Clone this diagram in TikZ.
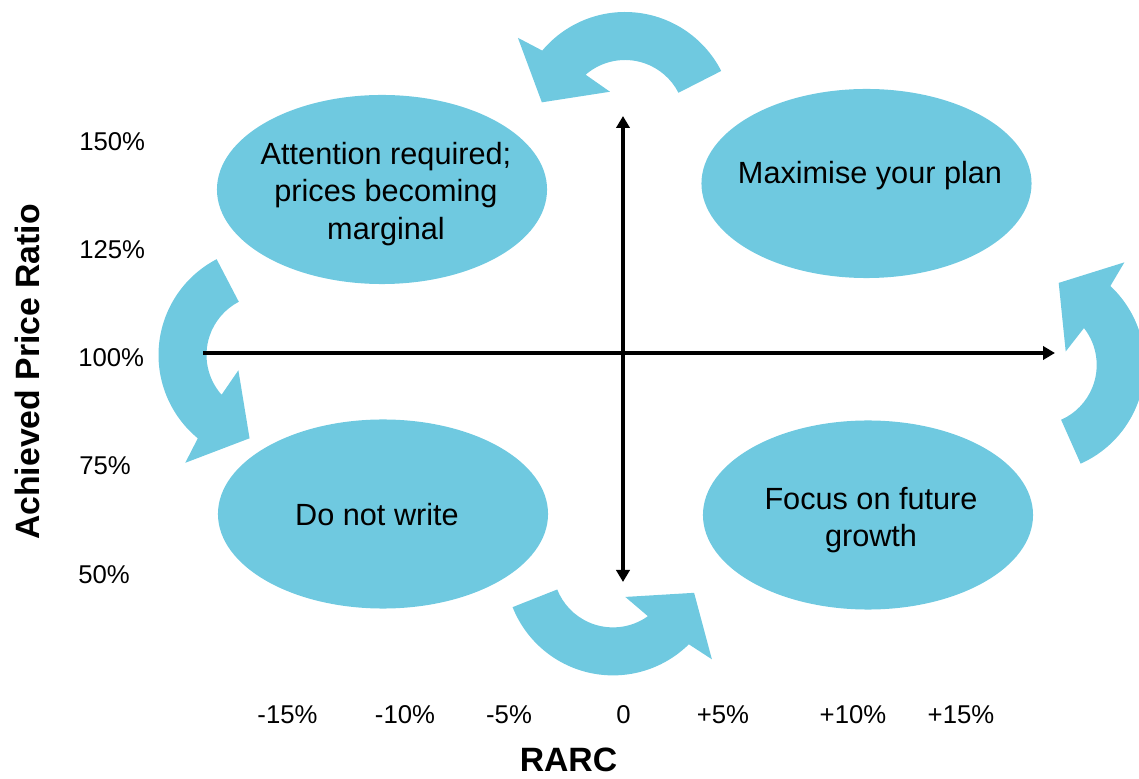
\documentclass[tikz,border=0pt]{standalone}
\usepackage{fontspec}
\setmainfont{Liberation Sans}
\usetikzlibrary{shapes.geometric,arrows.meta}
\definecolor{zoneblue}{RGB}{111,201,224}
\tikzset{
  zone/.style={ellipse,fill=zoneblue,minimum width=8.25cm,minimum height=4.725cm},
  zonetext/.style={align=center,inner sep=0pt,font=\fontsize{21.8pt}{26.5pt}\selectfont},
  tick/.style={inner sep=0pt,font=\fontsize{18.3pt}{22pt}\selectfont},
  title/.style={inner sep=0pt,font=\fontsize{24pt}{28pt}\selectfont\bfseries},
  axis/.style={line width=2.7pt},
  turn/.style={fill=zoneblue}
}

\begin{document}
\begin{tikzpicture}[x=0.025cm,y=0.025cm]
\useasboundingbox (0,0) rectangle (1139,778);
\clip (0,0) rectangle (1139,778);
% circular arrows: centre x / centre y / tail angle
\foreach \cx/\cy/\t in {625/658/27, 266.5/423/117.5, 613/210.6/201.6, 1036.7/413/-66}
  \fill[turn,shift={(\cx,\cy)}] (\t:108) arc[start angle=\t,end angle=\t+113,radius=108]
    -- (\t+115.5:135) -- (\t+141:85) -- (\t+91:32) -- (\t+104:60)
    arc[start angle=\t+104,end angle=\t,radius=60] -- cycle;
% quadrants
\node[zone] (attn) at (382,588.5) {};
\node[zone] (plan) at (866.5,594.5) {};
\node[zone] (nowrite) at (383,264) {};
\node[zone] (growth) at (868,263) {};
\node[zonetext] (attntext) at (386,584) {Attention required;\\prices becoming\\marginal};
\node[zonetext] (plantext) at (870,602) {Maximise your plan};
\node[zonetext] (nowritetext) at (377,263) {Do not write};
\node[zonetext] (growthtext) at (871,258) {Focus on future\\growth};
% axes
\coordinate (xstart) at (203,425);
\coordinate (xend) at (1055,425);
\coordinate (ytop) at (623,662);
\coordinate (ybot) at (623,196);
\draw[axis,-{Triangle[length=0.3cm,width=0.33cm]}] (xstart) -- (xend);
\draw[axis,{Triangle[length=0.3cm,width=0.33cm]}-{Triangle[length=0.3cm,width=0.33cm]}] (ybot) -- (ytop);
% price ratio scale
\node[tick,anchor=west] (p150) at (79,636) {150\%};
\node[tick,anchor=west] (p125) at (79,528) {125\%};
\node[tick,anchor=west] (p100) at (78,420) {100\%};
\node[tick,anchor=west] (p75) at (79,312) {75\%};
\node[tick,anchor=west] (p50) at (78,203) {50\%};
% RARC scale
\node[tick] (m15) at (287.5,63) {-15\%};
\node[tick] (m10) at (405,63) {-10\%};
\node[tick] (m5) at (509,63) {-5\%};
\node[tick] (zero) at (623.5,63) {0};
\node[tick] (p5) at (723,63) {+5\%};
\node[tick] (p10) at (853,63) {+10\%};
\node[tick] (p15) at (961,63) {+15\%};
\node[title] (rarc) at (568.5,18) {RARC};
\node[title,rotate=90] (ratio) at (27,406) {Achieved Price Ratio};
\end{tikzpicture}
\end{document}
